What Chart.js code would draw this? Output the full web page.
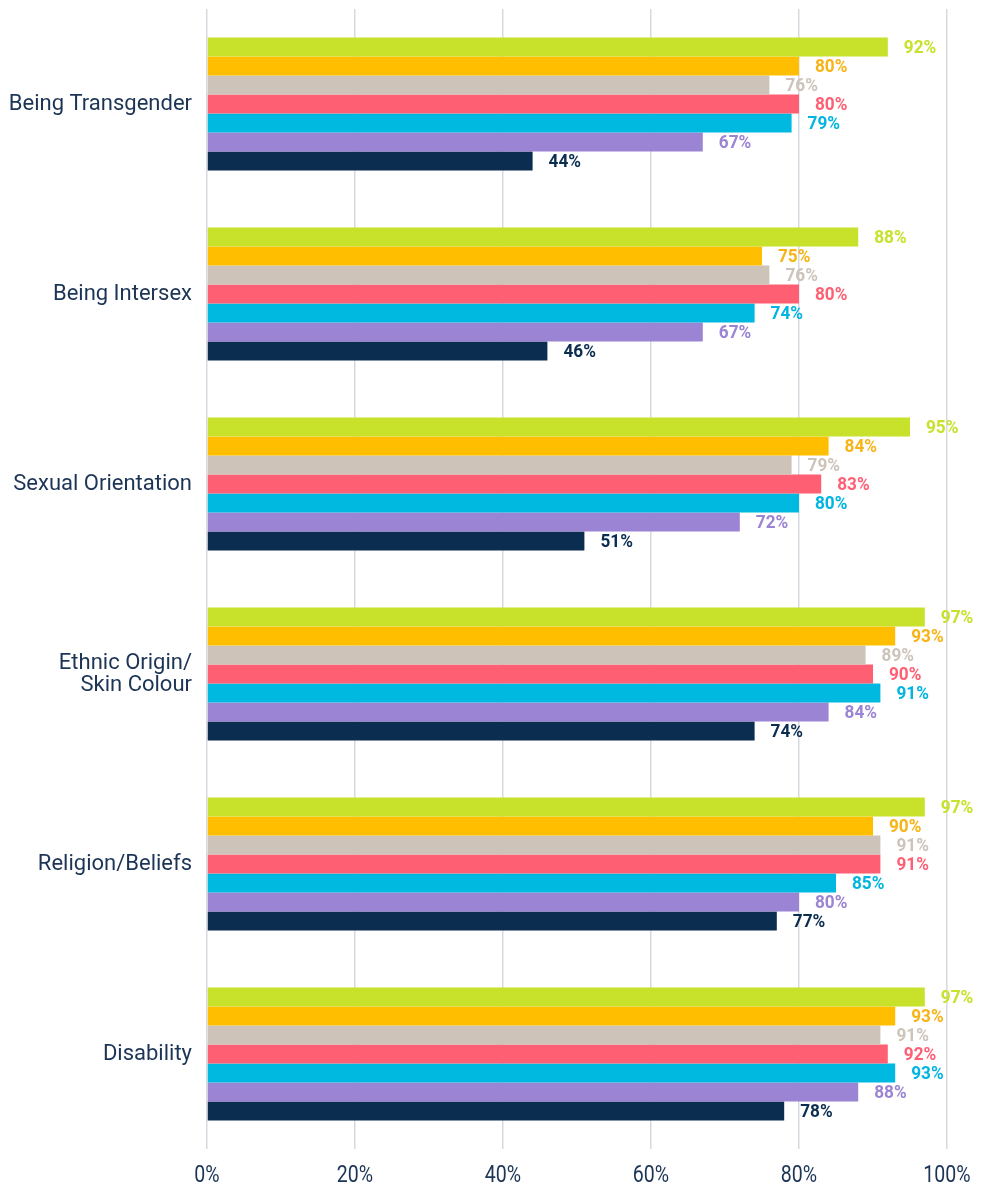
<!DOCTYPE html>
<html><head><meta charset="utf-8">
<script src="https://cdn.jsdelivr.net/npm/chart.js@4/dist/chart.umd.min.js"></script>
<style>html,body{margin:0;padding:0;background:#fff}#wrap{width:994px;height:1189px}</style>
</head><body><div id="wrap"><canvas id="c" width="994" height="1189"></canvas></div>
<script>
const categories = ['Being Transgender', 'Being Intersex', 'Sexual Orientation', ['Ethnic Origin/', 'Skin Colour'], 'Religion/Beliefs', 'Disability'];
const series1 = [92, 88, 95, 97, 97, 97];
const series2 = [80, 75, 84, 93, 90, 93];
const series3 = [76, 76, 79, 89, 91, 91];
const series4 = [80, 80, 83, 90, 91, 92];
const series5 = [79, 74, 80, 91, 85, 93];
const series6 = [67, 67, 72, 84, 80, 88];
const series7 = [44, 46, 51, 74, 77, 78];
const tickLabels = ['0%', '20%', '40%', '60%', '80%', '100%'];

const colors = ['#c8e12a', '#ffbf00', '#cdc3b9', '#ff5f73', '#00b9e0', '#9b84d3', '#0b2d50'];
const labelColors = ['#c8e12a', '#f7b416', '#cdc3b9', '#ff5f73', '#00b5e0', '#9b84d3', '#0b2d50'];
const allSeries = [series1, series2, series3, series4, series5, series6, series7];

const valueLabels = {
  id: 'valueLabels',
  afterDatasetsDraw(chart) {
    const ctx = chart.ctx;
    ctx.save();
    ctx.font = 'bold 18.5px Roboto, sans-serif';
    ctx.textAlign = 'left';
    ctx.textBaseline = 'middle';
    chart.data.datasets.forEach((ds, i) => {
      const meta = chart.getDatasetMeta(i);
      ctx.fillStyle = labelColors[i];
      meta.data.forEach((bar, j) => {
        ctx.save();
        ctx.translate(bar.x + 16, bar.y + 1.5);
        ctx.scale(0.93, 1);
        ctx.fillText(ds.data[j] + '%', 0, 0);
        ctx.restore();
      });
    });
    ctx.restore();
  },
  afterDraw(chart) {
    const ctx = chart.ctx;
    const xs = chart.scales.x;
    ctx.save();
    ctx.font = '23px Roboto, sans-serif';
    ctx.fillStyle = '#1c3455';
    ctx.textAlign = 'center';
    ctx.textBaseline = 'middle';
    xs.ticks.forEach((t, i) => {
      const px = xs.getPixelForValue(t.value);
      ctx.save();
      ctx.translate(px, 1176);
      ctx.scale(0.85, 1);
      ctx.fillText(tickLabels[i], 0, 0);
      ctx.restore();
    });
    ctx.restore();
  }
};

new Chart(document.getElementById('c'), {
  type: 'bar',
  data: {
    labels: categories,
    datasets: allSeries.map((s, i) => ({
      data: s,
      backgroundColor: colors[i],
      borderWidth: 0,
      barPercentage: 1.0,
      categoryPercentage: 0.7
    }))
  },
  options: {
    indexAxis: 'y',
    responsive: false,
    animation: false,
    layout: { padding: { top: 9, right: 47, bottom: 0, left: 0 } },
    plugins: { legend: { display: false }, tooltip: { enabled: false } },
    scales: {
      x: {
        min: 0, max: 100,
        afterBuildTicks(scale) { scale.ticks = tickLabels.map((t, i) => ({ value: i * 20 })); },
        afterFit(scale) { scale.height = 40; scale.paddingLeft = 0; scale.paddingRight = 0; },
        grid: { display: true, drawTicks: false, color: '#d5dae0', lineWidth: 1.5 },
        border: { display: false },
        ticks: { display: false }
      },
      y: {
        afterFit(scale) { scale.width = 207; scale.paddingTop = 0; scale.paddingBottom = 0; },
        grid: { display: false, drawTicks: false },
        border: { display: false },
        ticks: {
          padding: 15,
          color: '#1c3455',
          font: { family: 'Roboto, "Liberation Sans", sans-serif', size: 22, lineHeight: 1.0 }
        }
      }
    }
  },
  plugins: [valueLabels]
});
</script></body></html>
